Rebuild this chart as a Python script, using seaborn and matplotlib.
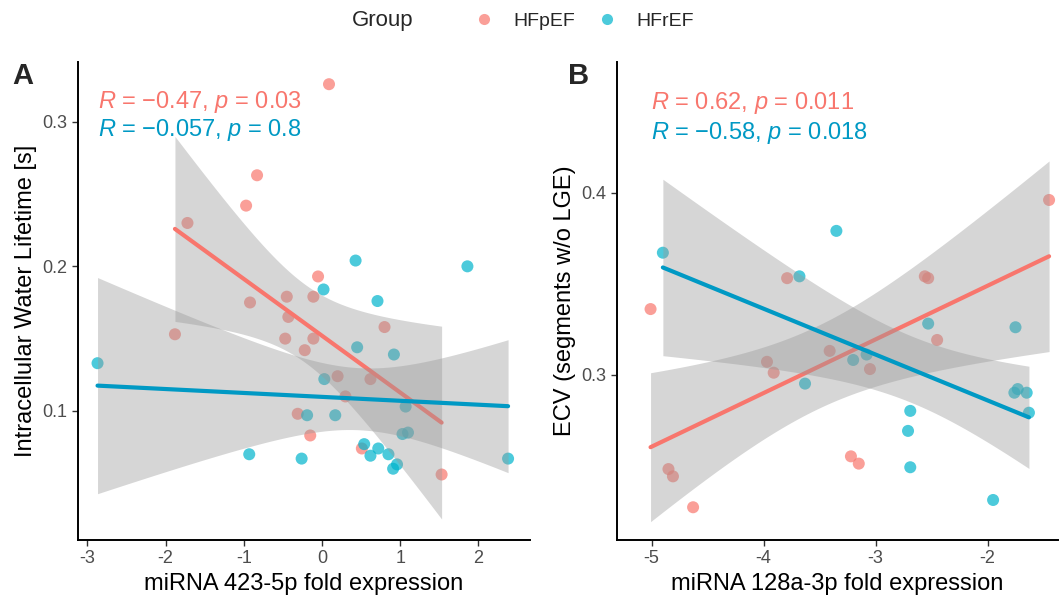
import numpy as np
import pandas as pd
import matplotlib
matplotlib.use('Agg')
import matplotlib.pyplot as plt
import matplotlib.transforms as mtransforms
from matplotlib.lines import Line2D
import seaborn as sns

# Panel A: miRNA 423-5p vs intracellular water lifetime
a_pef_x = [-0.83, -0.97, -1.72, -0.05, -0.92, -0.45, -0.11, 0.09, -0.43, -1.88, -0.47,
           -0.11, -0.22, -0.31, -0.15, 0.80, 0.20, 0.62, 0.30, 0.51, 1.53]
a_pef_y = [0.263, 0.242, 0.230, 0.193, 0.175, 0.179, 0.179, 0.326, 0.165, 0.153, 0.150,
           0.150, 0.142, 0.098, 0.083, 0.158, 0.124, 0.122, 0.110, 0.074, 0.056]
a_ref_x = [0.43, 1.86, 0.02, 0.71, -2.87, -0.19, -0.93, -0.26, 0.45, 0.92, 0.03,
           1.07, 0.17, 1.03, 1.10, 0.54, 0.72, 0.62, 0.85, 0.91, 0.96, 2.38]
a_ref_y = [0.204, 0.200, 0.184, 0.176, 0.133, 0.097, 0.070, 0.067, 0.144, 0.139, 0.122,
           0.103, 0.097, 0.084, 0.085, 0.077, 0.074, 0.069, 0.070, 0.060, 0.063, 0.067]

# Panel B: miRNA 128a-3p vs ECV
b_pef_x = [-1.45, -3.79, -5.01, -2.56, -2.53, -3.41, -3.97, -3.91, -4.85, -4.81,
           -4.63, -2.45, -3.05, -3.22, -3.15]
b_pef_y = [0.396, 0.353, 0.336, 0.354, 0.353, 0.313, 0.307, 0.301, 0.248, 0.244,
           0.227, 0.319, 0.303, 0.255, 0.251]
b_ref_x = [-4.90, -3.35, -3.68, -3.63, -2.53, -1.75, -3.08, -3.20, -1.73, -1.76,
           -1.65, -1.63, -2.69, -2.71, -2.69, -1.95]
b_ref_y = [0.367, 0.379, 0.354, 0.295, 0.328, 0.326, 0.311, 0.308, 0.292, 0.290,
           0.290, 0.279, 0.280, 0.269, 0.249, 0.231]

groups = ["HFpEF", "HFrEF"]
stats_a = [("\u22120.47", "0.03"), ("\u22120.057", "0.8")]
stats_b = [("0.62", "0.011"), ("\u22120.58", "0.018")]

point_cols = {"HFpEF": "#F8766D", "HFrEF": "#00B4CC"}
line_cols = {"HFpEF": "#F8766D", "HFrEF": "#0099C4"}


def make_df(px, py, rx, ry):
    return pd.DataFrame({
        "x": px + rx,
        "y": py + ry,
        "Group": ["HFpEF"] * len(px) + ["HFrEF"] * len(rx),
    })


def t_quantile(q, dof):
    # numeric t-distribution quantile (no scipy around)
    grid = np.linspace(0, 80, 400001)
    pdf = (1 + grid ** 2 / dof) ** (-(dof + 1) / 2)
    cum = np.concatenate([[0], np.cumsum((pdf[1:] + pdf[:-1]) / 2 * np.diff(grid))])
    cdf = 0.5 + 0.5 * cum / cum[-1]
    return np.interp(q, cdf, grid)


def lm_band(x, y, n_pts=80):
    x = np.asarray(x)
    y = np.asarray(y)
    n = len(x)
    slope, icpt = np.polyfit(x, y, 1)
    resid = y - (slope * x + icpt)
    s = np.sqrt(np.sum(resid ** 2) / (n - 2))
    xs = np.linspace(x.min(), x.max(), n_pts)
    se = s * np.sqrt(1 / n + (xs - x.mean()) ** 2 / np.sum((x - x.mean()) ** 2))
    fit = slope * xs + icpt
    tq = t_quantile(0.975, n - 2)
    return xs, fit - tq * se, fit + tq * se


sns.set_style("white")
plt.rcParams['font.family'] = ['Liberation Sans', 'DejaVu Sans']
plt.rcParams['mathtext.fontset'] = 'custom'
plt.rcParams['mathtext.rm'] = 'Liberation Sans'
plt.rcParams['mathtext.it'] = 'Liberation Sans:italic'

fig = plt.figure(figsize=(10.61, 5.97), dpi=100)
ax_a = fig.add_axes([0.0735, 0.0955, 0.426, 0.801])
ax_b = fig.add_axes([0.5815, 0.0955, 0.4157, 0.801])

panels = [
    (ax_a, make_df(a_pef_x, a_pef_y, a_ref_x, a_ref_y), stats_a,
     "miRNA 423-5p fold expression", "Intracellular Water Lifetime [s]",
     (-3.12, 2.66), (0.0107, 0.3415), [-3, -2, -1, 0, 1, 2], [0.1, 0.2, 0.3], "A",
     (0.916, 0.858)),
    (ax_b, make_df(b_pef_x, b_pef_y, b_ref_x, b_ref_y), stats_b,
     "miRNA 128a-3p fold expression", "ECV (segments w/o LGE)",
     (-5.31, -1.37), (0.209, 0.472), [-5, -4, -3, -2], [0.3, 0.4], "B",
     (0.914, 0.851)),
]

for ax, df, stats, xlab, ylab, xlim, ylim, xt, yt, tag, ty in panels:
    sns.scatterplot(data=df, x="x", y="y", hue="Group", palette=point_cols,
                    s=75, alpha=0.7, linewidth=0, legend=False, ax=ax, zorder=1)
    z = 2
    for g in groups:
        sub = df[df["Group"] == g]
        xs, lo, hi = lm_band(sub["x"], sub["y"])
        ax.fill_between(xs, lo, hi, color="#999999", alpha=0.4, linewidth=0, zorder=z)
        sns.regplot(data=sub, x="x", y="y", scatter=False, ci=None, ax=ax,
                    color=line_cols[g], line_kws={"lw": 3, "zorder": z + 0.5})
        z += 1

    trans = mtransforms.blended_transform_factory(ax.transData, ax.transAxes)
    x0 = df["x"].min()
    for g, (r, p), yy in zip(groups, stats, ty):
        label = "$\\it{R}$ = " + r + ", $\\it{p}$ = " + p
        ax.text(x0, yy, label, color=line_cols[g], fontsize=17, va="center", ha="left",
                transform=trans)

    ax.set_xlim(*xlim)
    ax.set_ylim(*ylim)
    ax.set_xticks(xt)
    ax.set_xticklabels([str(v) for v in xt])
    ax.set_yticks(yt)
    ax.set_xlabel(xlab, fontsize=17, color="black")
    ax.set_ylabel(ylab, fontsize=17, color="black")
    ax.tick_params(axis="both", labelsize=13, labelcolor="#4D4D4D", color="#333333",
                   length=4, width=1, direction="out", bottom=True, left=True)
    for side in ["top", "right"]:
        ax.spines[side].set_visible(False)
    for side in ["left", "bottom"]:
        ax.spines[side].set_color("black")
        ax.spines[side].set_linewidth(1.4)
    ax.grid(False)
    ax.text(-0.145 if tag == "A" else -0.11, 1.0, tag, transform=ax.transAxes,
            fontsize=21, fontweight="bold", va="top", ha="left")

fig.text(0.332, 0.965, "Group", fontsize=16, va="center", ha="left")
handles = [Line2D([], [], marker="o", ls="none", color=point_cols[g], alpha=0.7,
                  markersize=8, markeredgewidth=0) for g in groups]
fig.legend(handles, groups, loc="center left", bbox_to_anchor=(0.44, 0.965), ncol=2,
           frameon=False, fontsize=14, handlelength=1.0, handletextpad=1.0,
           columnspacing=1.15, borderaxespad=0)

fig.savefig("out.png", dpi=100)
